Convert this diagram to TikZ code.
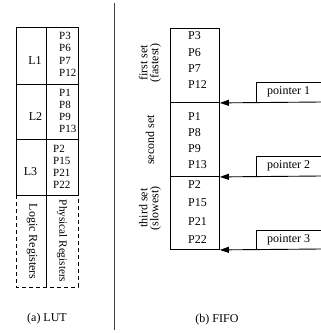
\documentclass[tikz,border=0pt]{standalone}
\usepackage{fontspec}
\setmainfont{Liberation Serif}
\usetikzlibrary{arrows.meta}
\tikzset{
  ln/.style={line width=0.9pt, draw=black},
  txt/.style={font=\fontsize{12}{11}\selectfont, inner sep=0pt, text=black},
  ltxt/.style={font=\fontsize{11}{11}\selectfont, inner sep=0pt, text=black},
  setbox/.style={ln, draw, minimum width=49pt, inner sep=0pt, anchor=north west},
  ptrbox/.style={minimum width=65pt, minimum height=19pt, inner sep=0pt, anchor=south west},
  arr/.style={ln, -{Triangle[length=9pt,width=6pt,fill=black]}}
}
\begin{document}
\begin{tikzpicture}[x=1pt,y=-1pt]
\useasboundingbox (0,0) rectangle (321,333);
% separator
\draw[ln, line width=1.2pt, draw=black!75] (114.5,3) -- (114.5,330);

% ---------- LUT ----------
\draw[ln] (16,195) -- (16,27) -- (78,27) -- (78,195);
\draw[ln] (46,27) -- (46,287);
\draw[ln] (16,84) -- (78,84);
\draw[ln] (16,139) -- (78,139);
\draw[ln] (16,195) -- (78,195);
\draw[ln, dash pattern=on 4pt off 3pt] (16,195) -- (16,287) -- (78,287) -- (78,195);

\node[txt] (l1) at (35,61) {L1};
\node[ltxt, anchor=west] (p3) at (59,36) {P3};
\node[ltxt, anchor=west] (p6) at (59,48) {P6};
\node[ltxt, anchor=west] (p7) at (59,61) {P7};
\node[ltxt, anchor=west] (p12) at (59,73) {P12};

\node[txt] (l2) at (35.5,117) {L2};
\node[ltxt, anchor=west] (p1) at (59,93) {P1};
\node[ltxt, anchor=west] (p8) at (59,105) {P8};
\node[ltxt, anchor=west] (p9) at (59,117) {P9};
\node[ltxt, anchor=west] (p13) at (59,129) {P13};

\node[txt] (l3) at (30.5,172) {L3};
\node[ltxt, anchor=west] (p2) at (53,149) {P2};
\node[ltxt, anchor=west] (p15) at (53,161) {P15};
\node[ltxt, anchor=west] (p21) at (53,173) {P21};
\node[ltxt, anchor=west] (p22) at (53,185) {P22};

\node[txt, rotate=-90] (logic) at (32,241.5) {Logic Registers};
\node[txt, rotate=-90, font=\fontsize{11.2}{11}\selectfont] (phys) at (62,241) {Physical Registers};

\node[txt] (capa) at (47,319) {(a) LUT};

% ---------- FIFO ----------
\node[setbox, minimum height=74pt] (set1) at (170,28) {};
\node[setbox, minimum height=74pt] (set2) at (170,102) {};
\node[setbox, minimum height=73pt] (set3) at (170,176) {};

\node[txt, anchor=west] (f3) at (188,36) {P3};
\node[txt, anchor=west] (f6) at (188,52.5) {P6};
\node[txt, anchor=west] (f7) at (188,69) {P7};
\node[txt, anchor=west] (f12) at (188,85) {P12};

\node[txt, anchor=west] (f1) at (188,117) {P1};
\node[txt, anchor=west] (f8) at (188,133) {P8};
\node[txt, anchor=west] (f9) at (188,149) {P9};
\node[txt, anchor=west] (f13) at (188,165) {P13};

\node[txt, anchor=west] (f2) at (188,185) {P2};
\node[txt, anchor=west] (f15) at (188,203) {P15};
\node[txt, anchor=west] (f21) at (188,222) {P21};
\node[txt, anchor=west] (f22) at (188,240) {P22};

\node[txt, rotate=90, align=center] (first) at (150,63) {first set\\(fastest)};
\node[txt, rotate=90] (second) at (150,140) {second set};
\node[txt, rotate=90, align=center] (third) at (150,208) {third set\\(slowest)};

\node[ptrbox] (ptr1) at (256,102) {};
\node[ptrbox] (ptr2) at (256,176) {};
\node[ptrbox, minimum height=18pt] (ptr3) at (256,249) {};
\node[txt] (t1) at (ptr1.center) {pointer 1};
\node[txt] (t2) at (ptr2.center) {pointer 2};
\node[txt] (t3) at (ptr3.center) {pointer 3};

\draw[ln] (ptr1.south west) |- (ptr1.north east);
\draw[ln] (ptr2.south west) |- (ptr2.north east);
\draw[ln] (ptr3.south west) |- (ptr3.north east);

\draw[arr] (ptr1.south east) -- (set1.south east);
\draw[arr] (ptr2.south east) -- (set2.south east);
\draw[arr] (ptr3.south east) -- (set3.south east);

\node[txt] (capb) at (217,320) {(b) FIFO};
\end{tikzpicture}
\end{document}
